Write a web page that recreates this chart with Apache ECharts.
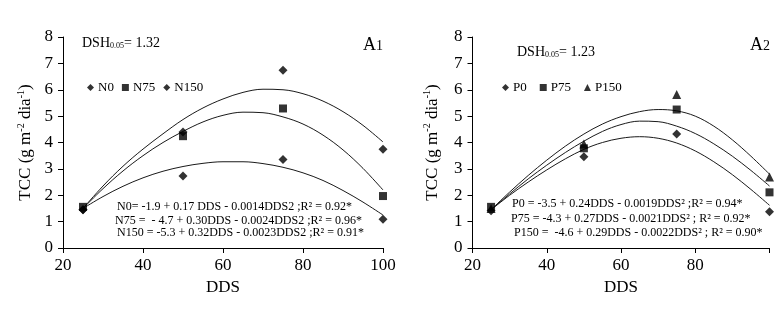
<!DOCTYPE html>
<html>
<head>
<meta charset="utf-8">
<script src="https://cdn.jsdelivr.net/npm/echarts@6/dist/echarts.min.js"></script>
<style>
  html, body { margin: 0; padding: 0; background: #fff; }
  #chart { width: 784px; height: 318px; }
</style>
</head>
<body>
<div id="chart"></div>
<script>
// 两个面板：A1（氮 N0/N75/N150）与 A2（磷 P0/P75/P150），TCC 随 DDS 变化

const FONT = '"Liberation Serif", "Times New Roman", serif';
const INK = "#000";

// 观测点（DDS）
const DDS_POINTS = [25, 50, 75, 100];

// A1 观测值
const N0 = [1.45, 2.73, 3.36, 1.09];
const N75 = [1.56, 4.24, 5.29, 1.97];
const N150 = [1.45, 4.4, 6.74, 3.74];

// A2 观测值
const P0 = [1.41, 3.46, 4.32, 1.37];
const P75 = [1.56, 3.78, 5.25, 2.11];
const P150 = [1.5, 3.94, 5.82, 2.69];

// 趋势线：曲线位置
const CURVE_DDS = [25, 30, 35, 40, 45, 50, 55, 60, 65, 70, 75, 80, 85, 90, 95, 100];
const FIT_N0 = [1.5, 1.95, 2.34, 2.66, 2.91, 3.09, 3.21, 3.27, 3.27, 3.2, 3.06, 2.85, 2.56, 2.18, 1.74, 1.25];
const FIT_N75 = [1.5, 2.25, 2.92, 3.5, 4.0, 4.42, 4.78, 5.03, 5.15, 5.13, 4.97, 4.7, 4.28, 3.72, 3.02, 2.2];
const FIT_N150 = [1.5, 2.35, 3.1, 3.75, 4.33, 4.87, 5.31, 5.65, 5.9, 6.02, 6.0, 5.85, 5.57, 5.17, 4.65, 4.02];
const FIT_P0 = [1.45, 2.0, 2.5, 2.96, 3.38, 3.74, 4.0, 4.16, 4.22, 4.16, 3.98, 3.68, 3.27, 2.78, 2.22, 1.62];
const FIT_P75 = [1.45, 2.05, 2.62, 3.14, 3.62, 4.05, 4.42, 4.68, 4.81, 4.79, 4.62, 4.34, 3.95, 3.48, 2.94, 2.35];
const FIT_P150 = [1.45, 2.12, 2.75, 3.33, 3.86, 4.32, 4.7, 4.98, 5.17, 5.25, 5.2, 5.0, 4.62, 4.1, 3.48, 2.8];

// 刻度
const X_MIN = 20, X_MAX = 100, X_STEP = 20;
const Y_MIN = 0, Y_MAX = 8, Y_STEP = 1;

const LEGEND_A1 = ["N0", "N75", "N150"];
const LEGEND_A2 = ["P0", "P75", "P150"];

const EQ_A1 = [
  "N0= -1.9 + 0.17 DDS - 0.0014DDS2 ;R\u00b2 = 0.92*",
  "N75 =  - 4.7 + 0.30DDS - 0.0024DDS2 ;R\u00b2 = 0.96*",
  "N150 = -5.3 + 0.32DDS - 0.0023DDS2 ;R\u00b2 = 0.91*",
];
const EQ_A2 = [
  "P0 = -3.5 + 0.24DDS - 0.0019DDS\u00b2 ;R\u00b2 = 0.94*",
  "P75 = -4.3 + 0.27DDS - 0.0021DDS\u00b2 ; R\u00b2 = 0.92*",
  "P150 =  -4.6 + 0.29DDS - 0.0022DDS\u00b2 ; R\u00b2 = 0.90*",
];

function pairs(xs, ys) {
  return xs.map(function (x, i) { return [x, ys[i]]; });
}

function xAxisFor(gridIndex, hideLast) {
  return {
    type: "value",
    gridIndex: gridIndex,
    min: X_MIN, max: X_MAX, interval: X_STEP,
    name: "DDS",
    nameLocation: "middle",
    nameGap: 27,
    nameTextStyle: { fontFamily: FONT, fontSize: 17, color: INK },
    axisLine: { show: true, onZero: false, lineStyle: { color: INK, width: 1 } },
    axisTick: { show: true, inside: false, length: 5, lineStyle: { color: INK } },
    splitLine: { show: false },
    axisLabel: {
      fontFamily: FONT, fontSize: 17, color: INK, margin: 9,
      formatter: function (v) { return hideLast && v === X_MAX ? "" : String(v); },
    },
  };
}

function yAxisFor(gridIndex, gap) {
  return {
    type: "value",
    gridIndex: gridIndex,
    min: Y_MIN, max: Y_MAX, interval: Y_STEP,
    name: "TCC (g m{sup|-2} dia{sup|-1})",
    nameLocation: "middle",
    nameGap: gap,
    nameTextStyle: {
      fontFamily: FONT, fontSize: 17, color: INK, lineHeight: 20,
      rich: { sup: { fontFamily: FONT, fontSize: 10, color: INK, verticalAlign: "top", lineHeight: 20 } },
    },
    axisLine: { show: true, onZero: false, lineStyle: { color: INK, width: 1 } },
    axisTick: { show: true, inside: false, length: 5, lineStyle: { color: INK } },
    splitLine: { show: false },
    axisLabel: { fontFamily: FONT, fontSize: 17, color: INK, margin: 10 },
  };
}

function scatter(name, idx, data, symbol, size) {
  return {
    name: name, type: "scatter",
    xAxisIndex: idx, yAxisIndex: idx,
    data: pairs(DDS_POINTS, data),
    symbol: symbol, symbolSize: size,
    itemStyle: { color: INK },
    z: 5,
  };
}

function curve(idx, values) {
  return {
    type: "line",
    xAxisIndex: idx, yAxisIndex: idx,
    data: pairs(CURVE_DDS, values),
    smooth: 0.35, showSymbol: false, silent: true,
    lineStyle: { color: "#1a1a1a", width: 1 },
    z: 2,
  };
}

function label(x, y, text, size, rich) {
  return {
    type: "text", x: x, y: y, silent: true,
    style: {
      text: text, fontFamily: FONT, fontSize: size, fill: INK,
      verticalAlign: "middle", rich: rich || {},
    },
  };
}

const DSH_RICH = { sub: { fontFamily: FONT, fontSize: 8, fill: INK, verticalAlign: "bottom", padding: [6, 0, 0, 0] } };
const A_RICH = {
  big: { fontFamily: FONT, fontSize: 18, fill: INK },
  idx: { fontFamily: FONT, fontSize: 14, fill: INK, padding: [3, 0, 0, 0] },
};

function legendFor(names, left, gap) {
  return {
    data: names, left: left, top: 76,
    orient: "horizontal",
    itemWidth: 7, itemHeight: 7, itemGap: gap,
    textStyle: { fontFamily: FONT, fontSize: 13, color: INK, padding: [0, 0, 0, -1] },
    selectedMode: false,
  };
}

const chart = echarts.init(document.getElementById("chart"), null, { renderer: "canvas" });

chart.setOption({
  animation: false,
  backgroundColor: "#fff",
  grid: [
    { left: 63, top: 37, width: 320, height: 211, containLabel: false, outerBoundsMode: "none" },
    { left: 472.5, top: 37, width: 297, height: 211, containLabel: false, outerBoundsMode: "none" },
  ],
  xAxis: [xAxisFor(0, false), xAxisFor(1, true)],
  yAxis: [yAxisFor(0, 27), yAxisFor(1, 30)],
  legend: [legendFor(LEGEND_A1, 82, 8), legendFor(LEGEND_A2, 497, 13)],
  series: [
    curve(0, FIT_N0), curve(0, FIT_N75), curve(0, FIT_N150),
    scatter("N0", 0, N0, "diamond", 9),
    scatter("N150", 0, N150, "diamond", 9),
    scatter("N75", 0, N75, "rect", 8),
    curve(1, FIT_P0), curve(1, FIT_P75), curve(1, FIT_P150),
    scatter("P0", 1, P0, "diamond", 9),
    scatter("P150", 1, P150, "triangle", 9),
    scatter("P75", 1, P75, "rect", 8),
  ],
  graphic: [
    label(82, 43, "DSH{sub|0.05}= 1.32", 14, DSH_RICH),
    label(363, 45, "{big|A}{idx|1}", 18, A_RICH),
    label(117, 207, EQ_A1[0], 12),
    label(115, 221, EQ_A1[1], 12),
    label(117, 233, EQ_A1[2], 12),
    label(517, 52, "DSH{sub|0.05}= 1.23", 14, DSH_RICH),
    label(750, 45, "{big|A}{idx|2}", 18, A_RICH),
    label(512, 204, EQ_A2[0], 12),
    label(511, 219, EQ_A2[1], 12),
    label(514, 233, EQ_A2[2], 12),
  ],
});
</script>
</body>
</html>
